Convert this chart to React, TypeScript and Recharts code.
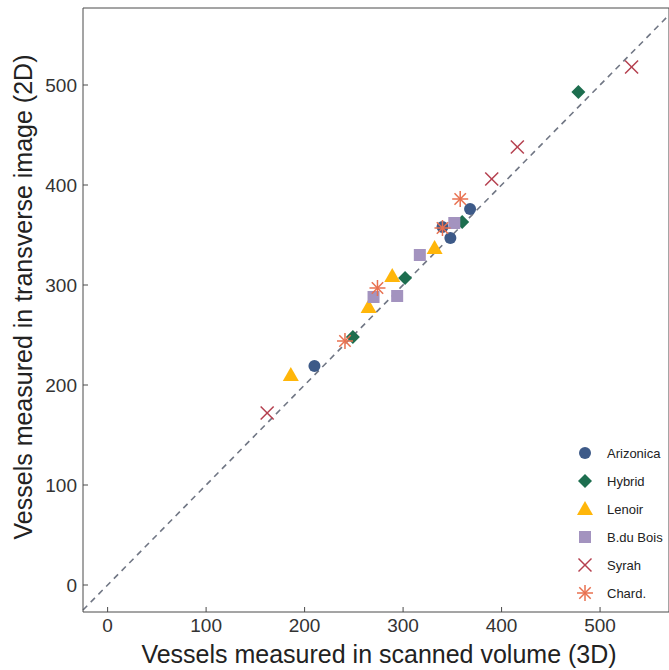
import {
  ScatterChart,
  Scatter,
  XAxis,
  YAxis,
  ReferenceLine,
} from "recharts";

const xTicks = [0, 100, 200, 300, 400, 500];
const yTicks = [0, 100, 200, 300, 400, 500];

const seriesNames = ["Arizonica", "Hybrid", "Lenoir", "B.du Bois", "Syrah", "Chard."];
const seriesColors = ["#3D5A88", "#1D6E4F", "#FFB60A", "#A393BF", "#B5404F", "#E8704F"];
const seriesShapes = ["circle", "diamond", "triangle", "square", "x", "asterisk"];

const arizonicaX = [210, 340, 348, 368];
const arizonicaY = [219, 358, 347, 376];
const hybridX = [249, 302, 360, 478];
const hybridY = [248, 307, 363, 493];
const lenoirX = [186, 265, 289, 332];
const lenoirY = [210, 278, 309, 337];
const boisX = [270, 294, 317, 352];
const boisY = [288, 289, 330, 362];
const syrahX = [162, 390, 416, 532];
const syrahY = [172, 406, 438, 518];
const chardX = [241, 274, 340, 358];
const chardY = [244, 297, 357, 386];

const seriesX = [arizonicaX, hybridX, lenoirX, boisX, syrahX, chardX];
const seriesY = [arizonicaY, hybridY, lenoirY, boisY, syrahY, chardY];

const AXIS = "#4a4a4a";
const TEXT = "#333333";
const FONT = "'Liberation Sans', Arial, sans-serif";

function Marker({ kind, color, cx, cy }: { kind: string; color: string; cx: number; cy: number }) {
  if (kind === "circle") return <circle cx={cx} cy={cy} r={6} fill={color} />;
  if (kind === "diamond")
    return <polygon points={`${cx},${cy - 7} ${cx + 7},${cy} ${cx},${cy + 7} ${cx - 7},${cy}`} fill={color} />;
  if (kind === "triangle")
    return <polygon points={`${cx},${cy - 8} ${cx + 8},${cy + 6} ${cx - 8},${cy + 6}`} fill={color} />;
  if (kind === "square") return <rect x={cx - 6} y={cy - 6} width={12} height={12} fill={color} />;
  if (kind === "x")
    return (
      <g stroke={color} strokeWidth={1.5}>
        <line x1={cx - 6.5} y1={cy - 6.5} x2={cx + 6.5} y2={cy + 6.5} />
        <line x1={cx - 6.5} y1={cy + 6.5} x2={cx + 6.5} y2={cy - 6.5} />
      </g>
    );
  // asterisk
  const d = 8;
  const e = 5.7;
  return (
    <g stroke={color} strokeWidth={1.5}>
      <line x1={cx} y1={cy - d} x2={cx} y2={cy + d} />
      <line x1={cx - d} y1={cy} x2={cx + d} y2={cy} />
      <line x1={cx - e} y1={cy - e} x2={cx + e} y2={cy + e} />
      <line x1={cx - e} y1={cy + e} x2={cx + e} y2={cy - e} />
    </g>
  );
}

// ticks point inward, labels sit outside
function XTick({ x, y, payload }: any) {
  return (
    <g>
      <line x1={x} y1={y} x2={x} y2={y - 5} stroke={AXIS} />
      <text x={x} y={y + 20} textAnchor="middle" fontSize={19} fontFamily={FONT} fill={TEXT}>
        {payload.value}
      </text>
    </g>
  );
}

function YTick({ x, y, payload }: any) {
  return (
    <g>
      <line x1={x} y1={y} x2={x + 5} y2={y} stroke={AXIS} />
      <text x={x - 6} y={y + 7} textAnchor="end" fontSize={19} fontFamily={FONT} fill={TEXT}>
        {payload.value}
      </text>
    </g>
  );
}

function XTitle() {
  return (
    <text x={379} y={663} textAnchor="middle" fontSize={25} fontFamily={FONT} fill="#222">
      Vessels measured in scanned volume (3D)
    </text>
  );
}

function YTitle() {
  return (
    <text transform="translate(32,297) rotate(-90)" textAnchor="middle" fontSize={25} fontFamily={FONT} fill="#222">
      Vessels measured in transverse image (2D)
    </text>
  );
}

export default function App() {
  const series = seriesNames.map((name, i) => ({
    name,
    color: seriesColors[i],
    kind: seriesShapes[i],
    data: seriesX[i].map((x, j) => ({ x, y: seriesY[i][j] })),
  }));

  return (
    <div style={{ position: "absolute", left: 0, top: 0, width: 669, height: 670, background: "#fff" }}>
      <ScatterChart width={669} height={670} margin={{ top: 8, right: 0, bottom: 0, left: 0 }}>
        <XAxis
          type="number"
          dataKey="x"
          domain={[-25, 570]}
          ticks={xTicks}
          allowDataOverflow
          height={58}
          stroke={AXIS}
          tickLine={false}
          tickSize={0}
          tickMargin={0}
          tick={<XTick />}
          label={<XTitle />}
        />
        <YAxis
          type="number"
          dataKey="y"
          domain={[-27, 577]}
          ticks={yTicks}
          allowDataOverflow
          width={83}
          stroke={AXIS}
          tickLine={false}
          tickSize={0}
          tickMargin={0}
          tick={<YTick />}
          label={<YTitle />}
        />
        <ReferenceLine y={577} stroke={AXIS} />
        <ReferenceLine x={570} stroke={AXIS} />
        <ReferenceLine
          segment={[{ x: -25, y: -25 }, { x: 570, y: 570 }]}
          stroke="#707684"
          strokeWidth={1.6}
          strokeDasharray="6 5"
        />
        {series.map((s) => (
          <Scatter
            key={s.name}
            name={s.name}
            data={s.data}
            isAnimationActive={false}
            shape={(p: any) => <Marker kind={s.kind} color={s.color} cx={p.cx} cy={p.cy} />}
          />
        ))}
      </ScatterChart>
      <div style={{ position: "absolute", left: 572, top: 439, fontFamily: FONT, fontSize: 13, color: "#222" }}>
        {series.map((s) => (
          <div key={s.name} style={{ display: "flex", alignItems: "center", height: 28 }}>
            <svg width={26} height={20}>
              <Marker kind={s.kind} color={s.color} cx={13} cy={10} />
            </svg>
            <span style={{ marginLeft: 9, whiteSpace: "nowrap" }}>{s.name}</span>
          </div>
        ))}
      </div>
    </div>
  );
}
